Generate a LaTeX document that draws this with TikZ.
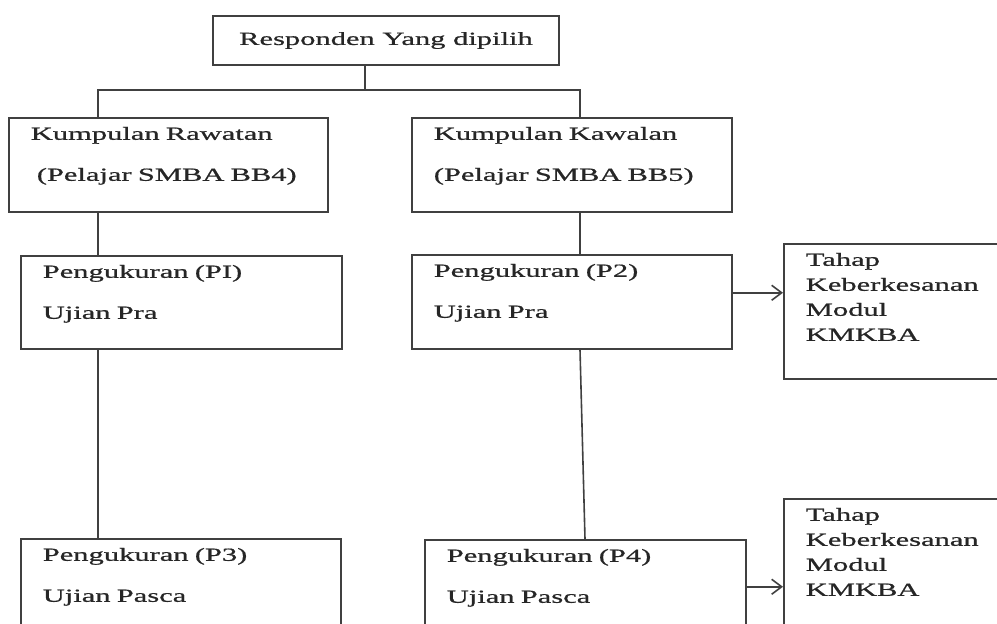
\documentclass[tikz,border=0pt]{standalone}
\usepackage{fontspec}
\setmainfont{Liberation Serif}[FakeStretch=1.65,FakeBold=0.8]
\usetikzlibrary{arrows.meta}

\begin{document}
\begin{tikzpicture}
  [x=1pt,y=-1pt,line width=1.6pt,
   >={Straight Barb[length=10pt,width=15pt]},
   respbox/.style={rectangle,draw=black!75,text=black!85,minimum width=346pt,minimum height=49pt,font=\fontsize{18.5}{22}\selectfont},
   groupbox/.style={rectangle,draw=black!75,text=black!85,anchor=north west,align=left,inner xsep=22pt,inner ysep=9pt,text height=13pt,text depth=63pt,font=\fontsize{18.5}{41}\selectfont},
   outcomebox/.style={groupbox,text width=206pt,text depth=104pt,font=\fontsize{18.5}{25}\selectfont}]
  \useasboundingbox (0,0) rectangle (997,624);
  \clip (0,0) rectangle (997,624);
  \node[respbox] (responden) at (386,40.5) {Responden Yang dipilih};
  \node[groupbox,text width=275pt] (rawatan) at (8,117) {Kumpulan Rawatan\\\hspace*{6pt}(Pelajar SMBA BB4)};
  \node[groupbox,text width=276pt] (kawalan) at (411,117) {Kumpulan Kawalan\\(Pelajar SMBA BB5)};
  \node[groupbox,text width=277pt,text depth=62pt] (p1) at (20,255) {Pengukuran (PI)\\Ujian Pra};
  \node[groupbox,text width=276pt] (p2) at (411,254) {Pengukuran (P2)\\Ujian Pra};
  \node[outcomebox] (tahap1) at (783,243) {Tahap\\Keberkesanan\\Modul\\KMKBA};
  \node[groupbox,text width=276pt] (p3) at (20,538) {Pengukuran (P3)\\Ujian Pasca};
  \node[groupbox,text width=277pt] (p4) at (424,539) {Pengukuran (P4)\\Ujian Pasca};
  \node[outcomebox] (tahap2) at (783,498) {Tahap\\Keberkesanan\\Modul\\KMKBA};
  \coordinate (fork) at (365,90);
  \coordinate (leftbus) at (98,90);
  \coordinate (rightbus) at (580,90);
  \draw [black!75] (fork |- responden.south) -- (fork);
  \draw [black!75] (leftbus |- rawatan.north) -- (leftbus) -- (rightbus) -- (rightbus |- kawalan.north);
  \draw [black!75] (leftbus |- rawatan.south) -- (leftbus |- p1.north);
  \draw [black!75] (leftbus |- p1.south) -- (leftbus |- p3.north);
  \draw [black!75] (rightbus |- kawalan.south) -- (rightbus |- p2.north);
  \draw [black!75] (rightbus |- p2.south) -- ([xshift=5pt]rightbus |- p4.north);
  \draw [black!75,->] ([yshift=9pt]p2.east) -- ([yshift=9pt]p2.east -| tahap1.west);
  \draw [black!75,->] (p4.east) -- (p4.east -| tahap2.west);
\end{tikzpicture}
\end{document}
